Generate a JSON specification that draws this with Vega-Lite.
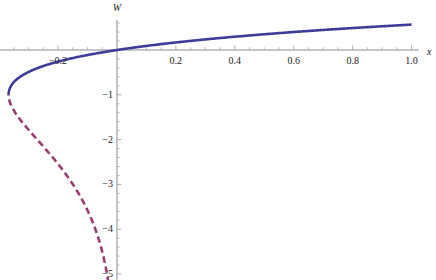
{
  "$schema": "https://vega.github.io/schema/vega-lite/v6.json",
  "width": 436,
  "height": 280,
  "padding": 0,
  "autosize": {"type": "none"},
  "config": {"view": {"stroke": null}},
  "datasets": {
    "curves": [
      {"branch": "W0", "x": -0.36788, "W": -1.0},
      {"branch": "W0", "x": -0.36786, "W": -0.99},
      {"branch": "W0", "x": -0.36780, "W": -0.98},
      {"branch": "W0", "x": -0.36741, "W": -0.95},
      {"branch": "W0", "x": -0.36591, "W": -0.9},
      {"branch": "W0", "x": -0.36330, "W": -0.85},
      {"branch": "W0", "x": -0.35946, "W": -0.8},
      {"branch": "W0", "x": -0.35427, "W": -0.75},
      {"branch": "W0", "x": -0.34761, "W": -0.7},
      {"branch": "W0", "x": -0.33933, "W": -0.65},
      {"branch": "W0", "x": -0.32929, "W": -0.6},
      {"branch": "W0", "x": -0.31732, "W": -0.55},
      {"branch": "W0", "x": -0.30327, "W": -0.5},
      {"branch": "W0", "x": -0.28693, "W": -0.45},
      {"branch": "W0", "x": -0.26813, "W": -0.4},
      {"branch": "W0", "x": -0.24664, "W": -0.35},
      {"branch": "W0", "x": -0.22225, "W": -0.3},
      {"branch": "W0", "x": -0.19470, "W": -0.25},
      {"branch": "W0", "x": -0.16375, "W": -0.2},
      {"branch": "W0", "x": -0.12911, "W": -0.15},
      {"branch": "W0", "x": -0.09048, "W": -0.1},
      {"branch": "W0", "x": -0.04756, "W": -0.05},
      {"branch": "W0", "x": 0.0, "W": 0.0},
      {"branch": "W0", "x": 0.05256, "W": 0.05},
      {"branch": "W0", "x": 0.11052, "W": 0.1},
      {"branch": "W0", "x": 0.17427, "W": 0.15},
      {"branch": "W0", "x": 0.24428, "W": 0.2},
      {"branch": "W0", "x": 0.32101, "W": 0.25},
      {"branch": "W0", "x": 0.40496, "W": 0.3},
      {"branch": "W0", "x": 0.49667, "W": 0.35},
      {"branch": "W0", "x": 0.59673, "W": 0.4},
      {"branch": "W0", "x": 0.70574, "W": 0.45},
      {"branch": "W0", "x": 0.82436, "W": 0.5},
      {"branch": "W0", "x": 0.95329, "W": 0.55},
      {"branch": "W0", "x": 1.0, "W": 0.56714},
      {"branch": "W-1", "x": -0.36788, "W": -1.0},
      {"branch": "W-1", "x": -0.36743, "W": -1.05},
      {"branch": "W-1", "x": -0.36616, "W": -1.1},
      {"branch": "W-1", "x": -0.36413, "W": -1.15},
      {"branch": "W-1", "x": -0.36143, "W": -1.2},
      {"branch": "W-1", "x": -0.35429, "W": -1.3},
      {"branch": "W-1", "x": -0.34524, "W": -1.4},
      {"branch": "W-1", "x": -0.33470, "W": -1.5},
      {"branch": "W-1", "x": -0.32304, "W": -1.6},
      {"branch": "W-1", "x": -0.31056, "W": -1.7},
      {"branch": "W-1", "x": -0.29754, "W": -1.8},
      {"branch": "W-1", "x": -0.28418, "W": -1.9},
      {"branch": "W-1", "x": -0.27067, "W": -2.0},
      {"branch": "W-1", "x": -0.24377, "W": -2.2},
      {"branch": "W-1", "x": -0.21772, "W": -2.4},
      {"branch": "W-1", "x": -0.19311, "W": -2.6},
      {"branch": "W-1", "x": -0.17027, "W": -2.8},
      {"branch": "W-1", "x": -0.14936, "W": -3.0},
      {"branch": "W-1", "x": -0.13044, "W": -3.2},
      {"branch": "W-1", "x": -0.11347, "W": -3.4},
      {"branch": "W-1", "x": -0.09836, "W": -3.6},
      {"branch": "W-1", "x": -0.08501, "W": -3.8},
      {"branch": "W-1", "x": -0.07326, "W": -4.0},
      {"branch": "W-1", "x": -0.06299, "W": -4.2},
      {"branch": "W-1", "x": -0.05403, "W": -4.4},
      {"branch": "W-1", "x": -0.04624, "W": -4.6},
      {"branch": "W-1", "x": -0.03950, "W": -4.8},
      {"branch": "W-1", "x": -0.03369, "W": -5.0},
      {"branch": "W-1", "x": -0.02869, "W": -5.2}
    ],
    "xticks": [
      {"v": -0.35, "major": false, "label": ""},
      {"v": -0.3, "major": false, "label": ""},
      {"v": -0.25, "major": false, "label": ""},
      {"v": -0.2, "major": true, "label": "−0.2"},
      {"v": -0.15, "major": false, "label": ""},
      {"v": -0.1, "major": false, "label": ""},
      {"v": -0.05, "major": false, "label": ""},
      {"v": 0.05, "major": false, "label": ""},
      {"v": 0.1, "major": false, "label": ""},
      {"v": 0.15, "major": false, "label": ""},
      {"v": 0.2, "major": true, "label": "0.2"},
      {"v": 0.25, "major": false, "label": ""},
      {"v": 0.3, "major": false, "label": ""},
      {"v": 0.35, "major": false, "label": ""},
      {"v": 0.4, "major": true, "label": "0.4"},
      {"v": 0.45, "major": false, "label": ""},
      {"v": 0.5, "major": false, "label": ""},
      {"v": 0.55, "major": false, "label": ""},
      {"v": 0.6, "major": true, "label": "0.6"},
      {"v": 0.65, "major": false, "label": ""},
      {"v": 0.7, "major": false, "label": ""},
      {"v": 0.75, "major": false, "label": ""},
      {"v": 0.8, "major": true, "label": "0.8"},
      {"v": 0.85, "major": false, "label": ""},
      {"v": 0.9, "major": false, "label": ""},
      {"v": 0.95, "major": false, "label": ""},
      {"v": 1.0, "major": true, "label": "1.0"}
    ],
    "yticks": [
      {"v": 0.6, "major": false, "label": ""},
      {"v": 0.4, "major": false, "label": ""},
      {"v": 0.2, "major": false, "label": ""},
      {"v": -0.2, "major": false, "label": ""},
      {"v": -0.4, "major": false, "label": ""},
      {"v": -0.6, "major": false, "label": ""},
      {"v": -0.8, "major": false, "label": ""},
      {"v": -1, "major": true, "label": "−1"},
      {"v": -1.2, "major": false, "label": ""},
      {"v": -1.4, "major": false, "label": ""},
      {"v": -1.6, "major": false, "label": ""},
      {"v": -1.8, "major": false, "label": ""},
      {"v": -2, "major": true, "label": "−2"},
      {"v": -2.2, "major": false, "label": ""},
      {"v": -2.4, "major": false, "label": ""},
      {"v": -2.6, "major": false, "label": ""},
      {"v": -2.8, "major": false, "label": ""},
      {"v": -3, "major": true, "label": "−3"},
      {"v": -3.2, "major": false, "label": ""},
      {"v": -3.4, "major": false, "label": ""},
      {"v": -3.6, "major": false, "label": ""},
      {"v": -3.8, "major": false, "label": ""},
      {"v": -4, "major": true, "label": "−4"},
      {"v": -4.2, "major": false, "label": ""},
      {"v": -4.4, "major": false, "label": ""},
      {"v": -4.6, "major": false, "label": ""},
      {"v": -4.8, "major": false, "label": ""},
      {"v": -5, "major": true, "label": "−5"}
    ],
    "axes": [
      {"x1": -0.397, "x2": 1.025, "y1": 0, "y2": 0},
      {"x1": 0, "x2": 0, "y1": -5.14, "y2": 0.67}
    ],
    "titles": [
      {"x": 1.06, "y": -0.05, "t": "x"},
      {"x": 0, "y": 0.93, "t": "W"}
    ]
  },
  "layer": [
    {
      "data": {"name": "axes"},
      "mark": {"type": "rule", "color": "#8c8c8c", "strokeWidth": 1},
      "encoding": {
        "x": {"field": "x1", "type": "quantitative", "scale": {"domain": [-0.397, 1.083], "nice": false, "zero": false}, "axis": null},
        "x2": {"field": "x2"},
        "y": {"field": "y1", "type": "quantitative", "scale": {"domain": [-5.134, 1.116], "nice": false, "zero": false}, "axis": null},
        "y2": {"field": "y2"}
      }
    },
    {
      "data": {"name": "xticks"},
      "transform": [{"filter": "datum.major"}],
      "mark": {"type": "tick", "orient": "vertical", "size": 4.5, "thickness": 1, "yOffset": -2.25, "color": "#8c8c8c"},
      "encoding": {
        "x": {"field": "v", "type": "quantitative"},
        "y": {"datum": 0, "type": "quantitative"}
      }
    },
    {
      "data": {"name": "xticks"},
      "transform": [{"filter": "!datum.major"}],
      "mark": {"type": "tick", "orient": "vertical", "size": 2.8, "thickness": 1, "yOffset": -1.4, "color": "#a0a0a0"},
      "encoding": {
        "x": {"field": "v", "type": "quantitative"},
        "y": {"datum": 0, "type": "quantitative"}
      }
    },
    {
      "data": {"name": "yticks"},
      "transform": [{"filter": "datum.major"}],
      "mark": {"type": "tick", "orient": "horizontal", "size": 4.5, "thickness": 1, "xOffset": 2.25, "color": "#8c8c8c"},
      "encoding": {
        "y": {"field": "v", "type": "quantitative"},
        "x": {"datum": 0, "type": "quantitative"}
      }
    },
    {
      "data": {"name": "yticks"},
      "transform": [{"filter": "!datum.major"}],
      "mark": {"type": "tick", "orient": "horizontal", "size": 2.8, "thickness": 1, "xOffset": 1.4, "color": "#a0a0a0"},
      "encoding": {
        "y": {"field": "v", "type": "quantitative"},
        "x": {"datum": 0, "type": "quantitative"}
      }
    },
    {
      "data": {"name": "curves"},
      "mark": {"type": "line", "strokeWidth": 2.6, "clip": true},
      "encoding": {
        "x": {"field": "x", "type": "quantitative"},
        "y": {"field": "W", "type": "quantitative"},
        "order": {"field": "W", "type": "quantitative"},
        "color": {"field": "branch", "type": "nominal", "scale": {"domain": ["W0", "W-1"], "range": ["#3d3d99", "#993d71"]}, "legend": null},
        "strokeDash": {"field": "branch", "type": "nominal", "scale": {"domain": ["W0", "W-1"], "range": [[1, 0], [6.5, 3.8]]}, "legend": null}
      }
    },
    {
      "data": {"name": "xticks"},
      "transform": [{"filter": "datum.major"}],
      "mark": {"type": "text", "font": "Liberation Serif", "fontSize": 10, "color": "#222222", "baseline": "top", "align": "center", "dy": 6},
      "encoding": {
        "x": {"field": "v", "type": "quantitative"},
        "y": {"datum": 0, "type": "quantitative"},
        "text": {"field": "label"}
      }
    },
    {
      "data": {"name": "yticks"},
      "transform": [{"filter": "datum.major"}],
      "mark": {"type": "text", "font": "Liberation Serif", "fontSize": 10, "color": "#222222", "baseline": "middle", "align": "right", "dx": -4},
      "encoding": {
        "y": {"field": "v", "type": "quantitative"},
        "x": {"datum": 0, "type": "quantitative"},
        "text": {"field": "label"}
      }
    },
    {
      "data": {"name": "titles"},
      "mark": {"type": "text", "font": "Liberation Serif", "fontSize": 10, "fontStyle": "italic", "color": "#222222", "baseline": "middle", "align": "center"},
      "encoding": {
        "x": {"field": "x", "type": "quantitative"},
        "y": {"field": "y", "type": "quantitative"},
        "text": {"field": "t"}
      }
    }
  ]
}
